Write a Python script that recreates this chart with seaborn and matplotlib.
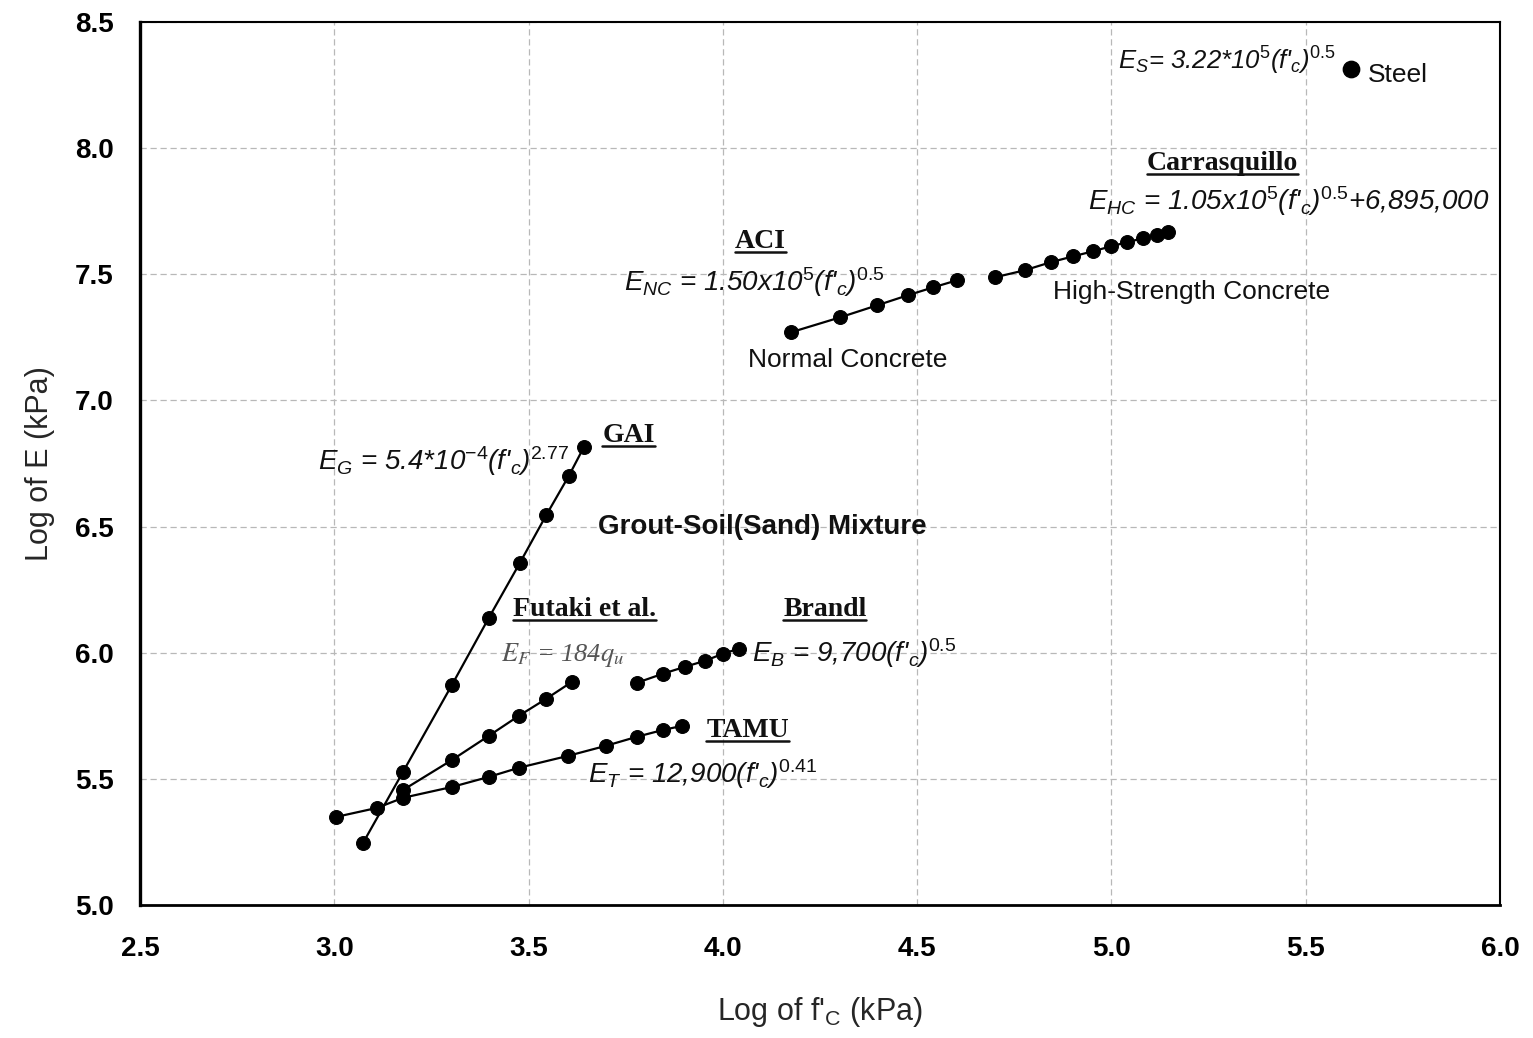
import matplotlib
matplotlib.use("Agg")
import matplotlib.pyplot as plt
import seaborn as sns
from matplotlib.ticker import MultipleLocator, FormatStrFormatter

# =========================
# Data (log10 values)
# =========================
gai_x = [3.074, 3.177, 3.303, 3.398, 3.478, 3.545, 3.604, 3.643]
gai_y = [5.246, 5.528, 5.873, 6.139, 6.357, 6.544, 6.702, 6.817]

futaki_x = [3.177, 3.303, 3.398, 3.475, 3.545, 3.612]
futaki_y = [5.456, 5.575, 5.671, 5.750, 5.817, 5.885]

tamu_x = [3.004, 3.110, 3.177, 3.303, 3.398, 3.475, 3.601, 3.699, 3.779, 3.846, 3.895]
tamu_y = [5.349, 5.385, 5.425, 5.468, 5.508, 5.544, 5.591, 5.631, 5.667, 5.694, 5.710]

brandl_x = [3.779, 3.846, 3.902, 3.954, 4.000, 4.041]
brandl_y = [5.881, 5.917, 5.944, 5.968, 5.996, 6.016]

aci_x = [4.175, 4.301, 4.397, 4.476, 4.541, 4.602]
aci_y = [7.270, 7.329, 7.377, 7.417, 7.448, 7.476]

hsc_x = [4.700, 4.777, 4.844, 4.901, 4.952, 4.999, 5.040, 5.081, 5.117, 5.145]
hsc_y = [7.488, 7.516, 7.548, 7.571, 7.591, 7.611, 7.627, 7.643, 7.655, 7.667]

steel_x = [5.616]
steel_y = [8.313]

series = [
    (gai_x, gai_y),
    (futaki_x, futaki_y),
    (tamu_x, tamu_y),
    (brandl_x, brandl_y),
    (aci_x, aci_y),
    (hsc_x, hsc_y),
]

# =========================
# Style
# =========================
sns.set_style("white")
plt.rcParams["font.family"] = ["Liberation Sans", "DejaVu Sans"]
plt.rcParams["mathtext.fontset"] = "custom"
plt.rcParams["mathtext.rm"] = "Liberation Sans"
plt.rcParams["mathtext.it"] = "Liberation Sans:italic"
plt.rcParams["mathtext.bf"] = "Liberation Sans:bold"

fig = plt.figure(figsize=(15.33, 10.38), dpi=100)
ax = fig.add_axes([0.0913, 0.1281, 0.8872, 0.8507])

# --- grid ---
ax.grid(True, color="#b8b8b8", linestyle=(0, (5, 3)), linewidth=0.9)
ax.set_axisbelow(True)

# --- lines + markers ---
for xs, ys in series:
    sns.lineplot(x=xs, y=ys, ax=ax, color="black", linewidth=1.6,
                 marker="o", markersize=10, markeredgecolor="black",
                 estimator=None, sort=False, legend=False)

sns.scatterplot(x=steel_x, y=steel_y, ax=ax, color="black", s=140,
                edgecolor="black", legend=False, zorder=3)

# --- axes ---
ax.set_xlim(2.5, 6.0)
ax.set_ylim(5.0, 8.5)
ax.xaxis.set_major_locator(MultipleLocator(0.5))
ax.yaxis.set_major_locator(MultipleLocator(0.5))
ax.xaxis.set_major_formatter(FormatStrFormatter("%.1f"))
ax.yaxis.set_major_formatter(FormatStrFormatter("%.1f"))
ax.tick_params(axis="both", direction="out", length=9, width=1.3,
               labelsize=20, colors="black")
ax.tick_params(axis="x", pad=13)
ax.tick_params(axis="y", pad=10)
for lab in ax.get_xticklabels() + ax.get_yticklabels():
    lab.set_fontweight("bold")
for sp in ax.spines.values():
    sp.set_color("black")
    sp.set_linewidth(1.5)
ax.spines["left"].set_linewidth(2.4)
ax.spines["bottom"].set_linewidth(2.0)

ax.set_xlabel("Log of f'$_\\mathregular{C}$ (kPa)", fontsize=22, labelpad=24)
ax.set_ylabel("Log of E (kPa)", fontsize=22, labelpad=14)

# --- annotations ---
eq_kw = dict(fontsize=20, style="italic", color="#111111", va="center", ha="left")
lab_kw = dict(fontsize=19, color="#111111", va="center", ha="left")

names = []


def name(x, y, s):
    t = ax.text(x, y, s, family="Liberation Serif", fontweight="bold", fontsize=20,
                va="center", ha="left", color="#111111")
    names.append(t)


name(5.091, 7.94, "Carrasquillo")
name(4.031, 7.63, "ACI")
name(3.69, 6.86, "GAI")
name(3.46, 6.17, "Futaki et al.")
name(4.155, 6.17, "Brandl")
name(3.957, 5.69, "TAMU")

ax.text(5.017, 8.345, r"E$_S$= 3.22*10$^5$(f'$_c$)$^{\mathit{0.5}}$",
        fontsize=18.5, style="italic", color="#111111", va="center", ha="left")
ax.text(4.94, 7.79, r"E$_{HC}$ = 1.05x10$^5$(f'$_c$)$^{\mathit{0.5}}$+6,895,000", **eq_kw)
ax.text(3.745, 7.47, r"E$_{NC}$ = 1.50x10$^5$(f'$_c$)$^{\mathit{0.5}}$", **eq_kw)
ax.text(2.958, 6.76, r"E$_G$ = 5.4*10$^{\mathit{-4}}$(f'$_c$)$^{\mathit{2.77}}$", **eq_kw)
ax.text(4.075, 6.00, r"E$_B$ = 9,700(f'$_c$)$^{\mathit{0.5}}$", **eq_kw)
ax.text(3.653, 5.52, r"E$_T$ = 12,900(f'$_c$)$^{\mathit{0.41}}$", **eq_kw)
ax.text(3.43, 5.99, r"$E_{F}$ = 184$q_u$", fontsize=19, style="italic",
        family="Liberation Serif", color="#555555", va="center", ha="left",
        math_fontfamily="stix")

ax.text(5.66, 8.29, "Steel", **lab_kw)
ax.text(4.849, 7.43, "High-Strength Concrete", **lab_kw)
ax.text(4.065, 7.16, "Normal Concrete", **lab_kw)
ax.text(3.679, 6.50, "Grout-Soil(Sand) Mixture", fontsize=20, fontweight="bold",
        color="#111111", va="center", ha="left")

# --- underline the source names ---
fig.canvas.draw()
renderer = fig.canvas.get_renderer()
inv = ax.transData.inverted()
for t in names:
    bb = t.get_window_extent(renderer)
    (x0, y0), (x1, _) = inv.transform([(bb.x0, bb.y0 + 2), (bb.x1, bb.y0 + 2)])
    ax.plot([x0, x1], [y0, y0], color="#111111", linewidth=1.8)

fig.savefig("out.png", dpi=100)
